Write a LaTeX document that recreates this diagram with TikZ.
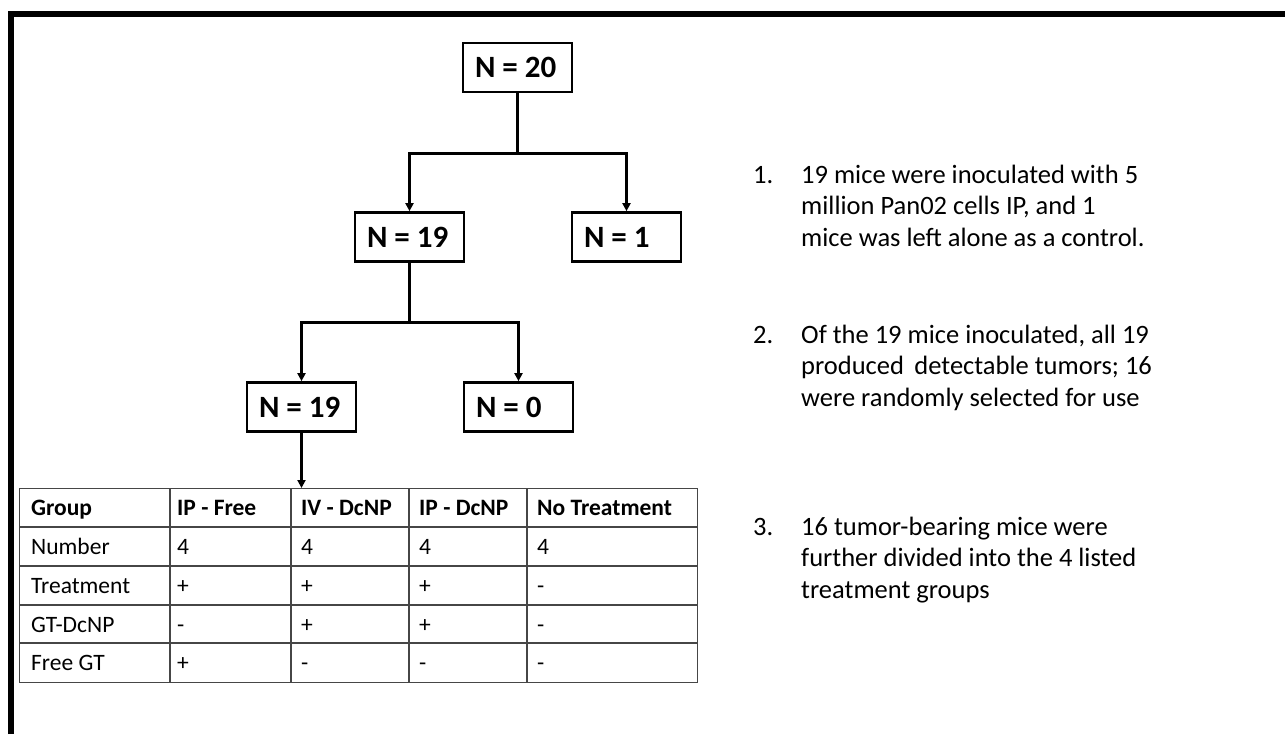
\documentclass[tikz,border=0pt]{standalone}
\usepackage{fontspec}
\setmainfont{Carlito}
\usetikzlibrary{arrows.meta}
\definecolor{tline}{RGB}{70,70,70}
\newcommand{\boxlbl}[1]{\makebox[85pt][l]{#1}}
\begin{document}
\begin{tikzpicture}[x=1pt,y=-1pt,
  nbox/.style={draw, line width=2.7pt, font=\fontsize{31}{36}\selectfont\bfseries,
    inner xsep=12pt, inner ysep=0pt, minimum height=49pt},
  conn/.style={line width=3pt},
  arr/.style={line width=3pt, -{Triangle[length=8pt,width=8pt]}},
  tab/.style={draw=tline, line width=1.3pt},
  cell/.style={anchor=base west, inner sep=0pt, font=\fontsize{23.5}{27}\selectfont},
  hcell/.style={cell, font=\fontsize{23.5}{27}\selectfont\bfseries},
  body/.style={anchor=base west, inner sep=0pt, font=\fontsize{26.5}{31}\selectfont}]
\useasboundingbox (0,0) rectangle (1285,734);
% frame
\draw[line width=6pt] (11,734) -- (11,14) -- (1285,14);
% tree
\node[nbox] (n20) at (517.5,67.5) {\boxlbl{N = 20}};
\node[nbox] (n19) at (409.5,237) {\boxlbl{N = 19}};
\node[nbox] (n1) at (626.5,237) {\boxlbl{N = 1}};
\node[nbox] (n19b) at (301.5,407) {\boxlbl{N = 19}};
\node[nbox] (n0) at (518.5,407) {\boxlbl{N = 0}};
\coordinate (s1) at (517.5,153);
\coordinate (s2) at (409.5,322);
\draw[conn] (n20.south) -- (s1);
\draw[arr] (s1) -| (n19.north);
\draw[arr] (s1) -| (n1.north);
\draw[conn] (n19.south) -- (s2);
\draw[arr] (s2) -| (n19b.north);
\draw[arr] (s2) -| (n0.north);
% table
\node[tab, anchor=north west, minimum width=678pt, minimum height=194pt, inner sep=0pt] (tbl) at (19,488) {};
\foreach \y in {527,566,605,643} \draw[tab] (19,\y) -- (697,\y);
\foreach \x in {170,291,409,527} \draw[tab] (\x,488) -- (\x,682);
\draw[arr] (n19b.south) -- (n19b.south |- tbl.north);
\node[hcell] (h1) at (31,515) {Group};
\node[hcell] (h2) at (177,515) {IP - Free};
\node[hcell] (h3) at (301,515) {IV - DcNP};
\node[hcell] (h4) at (419,515) {IP - DcNP};
\node[hcell] (h5) at (537,515) {No Treatment};
\foreach \r/\y/\a/\b/\c/\d/\e in {
  2/554/Number/4/4/4/4,
  3/593/Treatment/+/+/+/-,
  4/632/GT-DcNP/-/+/+/-,
  5/670/Free GT/+/-/-/-} {
  \node[cell] (c\r a) at (31,\y) {\a};
  \node[cell] (c\r b) at (177,\y) {\b};
  \node[cell] (c\r c) at (301,\y) {\c};
  \node[cell] (c\r d) at (419,\y) {\d};
  \node[cell] (c\r e) at (537,\y) {\e};
}
% notes
\node[body] (k1) at (753,183) {1.};
\node[body] (t1a) at (801,183) {19 mice were inoculated with 5};
\node[body] (t1b) at (801,214.5) {million Pan02 cells IP, and 1};
\node[body] (t1c) at (801,246) {mice was left alone as a control.};
\node[body] (k2) at (753,343) {2.};
\node[body] (t2a) at (801,343) {Of the 19 mice inoculated, all 19};
\node[body] (t2b) at (801,374.5) {produced\, detectable tumors; 16};
\node[body] (t2c) at (801,406) {were randomly selected for use};
\node[body] (k3) at (753,535) {3.};
\node[body] (t3a) at (801,535) {16 tumor-bearing mice were};
\node[body] (t3b) at (801,566.5) {further divided into the 4 listed};
\node[body] (t3c) at (801,598) {treatment groups};
\end{tikzpicture}
\end{document}
